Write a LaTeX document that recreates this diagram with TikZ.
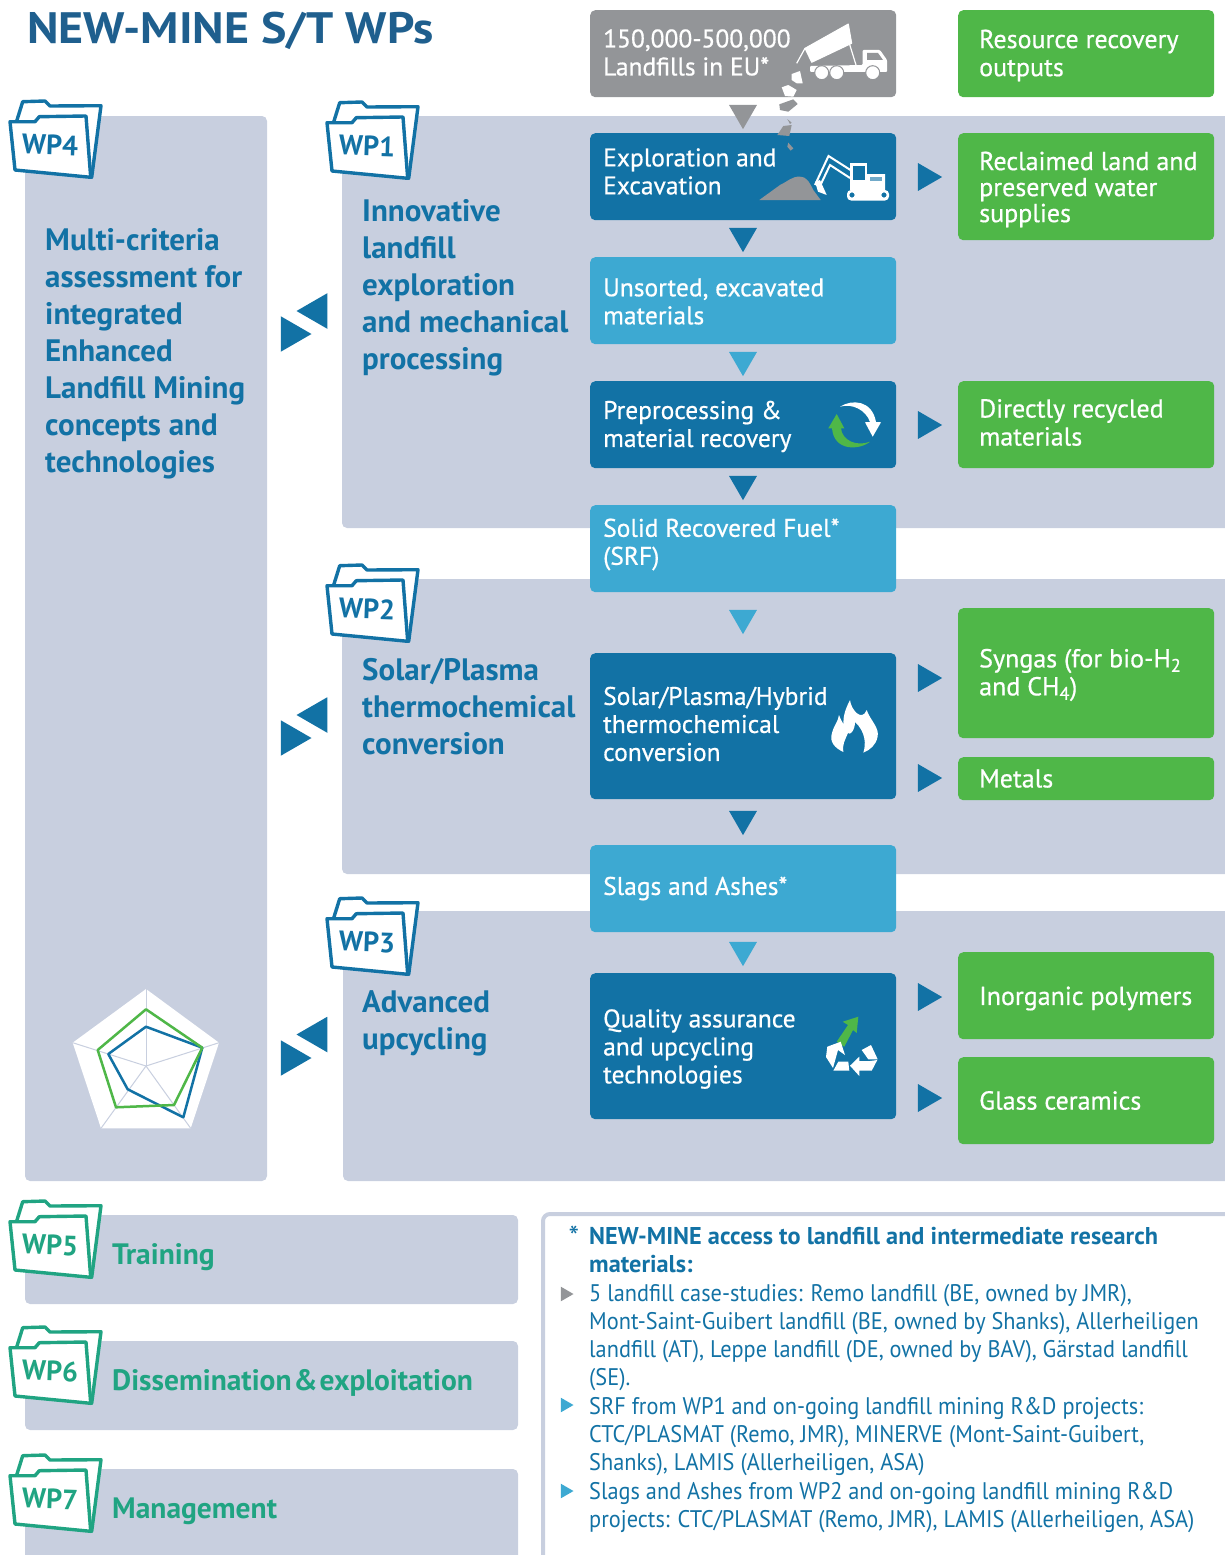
\documentclass[tikz,border=0pt]{standalone}
\usepackage{fontspec}
\usetikzlibrary{shapes.geometric}
\setmainfont{PT Sans}
\newfontfamily\boxfont[FakeBold=0.6]{PT Sans}
\newfontfamily\titlefont[FakeStretch=1.09]{PT Sans}
\newfontfamily\notesfont[FakeStretch=0.93]{PT Sans}

\definecolor{panelgray}{HTML}{C8CFDF}
\definecolor{wpblue}{HTML}{1272A5}
\definecolor{wplight}{HTML}{3DA9D2}
\definecolor{wpgreen}{HTML}{4FB748}
\definecolor{wpgray}{HTML}{939598}
\definecolor{wpteal}{HTML}{20A482}
\definecolor{wptitle}{HTML}{1F5F8E}

\tikzset{
  panel/.style={fill=panelgray, rounded corners=5},
  box/.style={rounded corners=5, anchor=north west, inner sep=0},
  boxtext/.style={text=white, align=left, anchor=west, inner sep=0, font=\boxfont\fontsize{25.5}{28}\selectfont},
  greentext/.style={text=white, align=left, anchor=west, inner sep=0, font=\boxfont\fontsize{26}{#1}\selectfont},
  greentext/.default=28,
  down/.style={regular polygon, regular polygon sides=3, shape border rotate=180, minimum size=32.3, inner sep=0},
  rightw/.style={regular polygon, regular polygon sides=3, shape border rotate=-90, minimum size=32.3, inner sep=0, fill=wpblue},
  pairr/.style={regular polygon, regular polygon sides=3, shape border rotate=-90, minimum size=41, inner sep=0, fill=wpblue},
  pairl/.style={regular polygon, regular polygon sides=3, shape border rotate=90, minimum size=41, inner sep=0, fill=wpblue},
  heading/.style={text=wpblue, align=left, anchor=north west, inner sep=0,
    font=\bfseries\fontsize{31}{37}\selectfont},
  tealtext/.style={text=wpteal, anchor=west, inner sep=0, font=\bfseries\fontsize{29.5}{37}\selectfont},
  bullet/.style={regular polygon, regular polygon sides=3, shape border rotate=-90, minimum size=17, inner sep=0},
}

\newcommand{\wpfolder}[5]{
  \begin{scope}[shift={(#1,#2)}]
    \filldraw[draw=#3, fill=white, line width=3.4, line join=round]
      (6.7,21) -- (12.7,1.7) -- (35,1) -- (40,6) -- (91,5.7) -- (81.7,77.3) -- cycle;
    \filldraw[draw=#3, fill=white, line width=3.4, line join=round]
      (0,21.7) -- (25,21.7) -- (29.3,16.7) -- (76,16) -- (80.7,77.3) -- (5,70) -- cycle;
    \node[text=#3, font=\bfseries\fontsize{28}{28}\selectfont, rotate=-2] (#5) at (40,45) {#4};
  \end{scope}
}

\newcommand{\greenbox}[6]{
  \node[box, fill=wpgreen, minimum width=256, minimum height=#3] (#1) at (958,#2) {};
  \node[greentext=#4] (#1t) at (979,#5) {#6};
}

\newcommand{\bluebox}[6]{
  \node[box, fill=#1, minimum width=306, minimum height=#4] (#2) at (590,#3) {};
  \node[boxtext] (#2t) at (603,#5) {#6};
}

\begin{document}
\begin{tikzpicture}[x=1pt, y=-1pt]
    \useasboundingbox (0,0) rectangle (1225,1555);
    \clip (0,0) rectangle (1225,1555);

    \fill[panel] (25,116) rectangle (267,1181);
    \fill[panel] (342,116) rectangle (1240,528);
    \fill[panel] (342,579) rectangle (1240,874);
    \fill[panel] (343,911) rectangle (1240,1181);
    \fill[panel] (25,1215) rectangle (518,1304);
    \fill[panel] (25,1341) rectangle (518,1430);
    \fill[panel] (25,1469) rectangle (518,1575);

    \node[text=wptitle, anchor=west, inner sep=0, font=\titlefont\bfseries\fontsize{44}{44}\selectfont] (title) at (27,31) {NEW-MINE S/T WPs};

    \wpfolder{10}{100}{wpblue}{WP4}{wp4}
    \wpfolder{327}{101}{wpblue}{WP1}{wp1}
    \wpfolder{327}{564}{wpblue}{WP2}{wp2}
    \wpfolder{327}{897}{wpblue}{WP3}{wp3}
    \wpfolder{10}{1200}{wpteal}{WP5}{wp5}
    \wpfolder{10}{1326}{wpteal}{WP6}{wp6}
    \wpfolder{10}{1454}{wpteal}{WP7}{wp7}

    \node[heading] (wp4text) at (45,228) {Multi-criteria\\assessment for\\integrated\\Enhanced\\Landfill Mining\\concepts and\\technologies};
    \node[heading] (wp1text) at (362,199) {Innovative\\landfill\\exploration\\and mechanical\\processing};
    \node[heading] (wp2text) at (362,658) {Solar/Plasma\\thermochemical\\conversion};
    \node[heading] (wp3text) at (362,990) {Advanced\\upcycling};

    \node[tealtext] (wp5text) at (112,1257) {Training};
    \node[tealtext] (wp6text) at (112,1383) {\spaceskip=2pt Dissemination \& exploitation};
    \node[tealtext] (wp7text) at (112,1511) {Management};

    \node[pairl] (p1l) at (317,311) {};
    \node[pairr] (p1r) at (291,334) {};
    \node[pairl] (p2l) at (317,715) {};
    \node[pairr] (p2r) at (291,738) {};
    \node[pairl] (p3l) at (317,1034.5) {};
    \node[pairr] (p3r) at (291,1058) {};

    \bluebox{wpgray}{landfills}{10}{87}{52.5}{150,000-500,000\\Landfills in EU*}
    \bluebox{wpblue}{explore}{133}{87}{171.5}{Exploration and\\Excavation}
    \bluebox{wplight}{unsorted}{257}{87}{301.5}{Unsorted, excavated\\materials}
    \bluebox{wpblue}{preproc}{381}{87}{426.5}{Preprocessing \&\\material recovery}
    \bluebox{wplight}{srf}{505}{87}{544.5}{Solid Recovered Fuel*\\(SRF)}
    \bluebox{wpblue}{solar}{653}{146}{724}{Solar/Plasma/Hybrid\\thermochemical\\conversion}
    \bluebox{wplight}{slags}{845}{87}{888.5}{Slags and Ashes*}
    \bluebox{wpblue}{quality}{973}{146}{1049}{Quality assurance\\and upcycling\\technologies}

    \greenbox{outputs}{10}{87}{28}{55.5}{Resource recovery\\outputs}
    \greenbox{reclaimed}{133}{107}{26}{189.5}{Reclaimed land and\\preserved water\\supplies}
    \greenbox{recycled}{381}{87}{28}{422.5}{Directly recycled\\materials}
    \greenbox{syngas}{608}{130}{28}{675}{Syngas (for bio-H\textsubscript{2}\\and CH\textsubscript{4})}
    \greenbox{metals}{757}{43}{28}{778.5}{Metals}
    \greenbox{polymers}{952}{87}{28}{998.5}{Inorganic polymers}
    \greenbox{ceramics}{1057}{87}{28}{1100.5}{Glass ceramics}

    \node[down, fill=wpgray] (d0) at (743,113) {};
    \node[down, fill=wpblue] (d1) at (743,236) {};
    \node[down, fill=wplight] (d2) at (743,360) {};
    \node[down, fill=wpblue] (d3) at (743,484) {};
    \node[down, fill=wplight] (d4) at (743,618) {};
    \node[down, fill=wpblue] (d5) at (743,819) {};
    \node[down, fill=wplight] (d6) at (743,950) {};

    \node[rightw] (r1) at (926,177) {};
    \node[rightw] (r2) at (926,425) {};
    \node[rightw] (r3) at (926,678) {};
    \node[rightw] (r4) at (926,778) {};
    \node[rightw] (r5) at (926,997) {};
    \node[rightw] (r6) at (926,1098) {};

    \fill[white, draw=white, line width=1, line join=round] (805,48.3) -- (848.3,24) -- (851.7,43.3) -- (811.7,62.3) -- cycle;
    \draw[white, line width=1.2] (796.7,63.3) -- (805,48.3);
    \draw[white, line width=1.2] (849.3,43.3) -- (856,65);
    \fill[white, rounded corners=1] (862.7,65) -- (862.7,50) -- (880,50) -- (887,60) -- (887,72) -- (810,72) -- (810,66) -- cycle;
    \fill[wpgray] (867,53) -- (878,53) -- (883,60) -- (867,60) -- cycle;
    \filldraw[draw=wpgray, fill=white, line width=1] (821.7,72.7) circle (7);
    \filldraw[draw=wpgray, fill=white, line width=1] (836.7,72.7) circle (7);
    \filldraw[draw=wpgray, fill=white, line width=1] (872.7,72.7) circle (7);

    \fill[white] (791.7,74) -- (800,71) -- (802.7,83.3) -- (796.7,83.3) -- (791.7,80) -- cycle;
    \fill[white] (781.7,87.3) -- (788.3,85) -- (796.7,90) -- (793.3,96.7) -- (785,96) -- cycle;
    \fill[wpgray] (779.3,104.3) -- (793.3,99.3) -- (797.7,104) -- (788.3,111.7) -- (780,110) -- cycle;
    \fill[wpgray] (787.3,119) -- (791.7,122.7) -- (790,124) -- cycle;
    \fill[wpgray] (783.3,126) -- (791.7,125) -- (789.3,136) -- (777.3,135) -- cycle;
    \fill[wpgray] (788.3,142.7) -- (793.3,148.3) -- (790.7,150.7) -- (787.3,146.7) -- cycle;

    \fill[wpgray] (759.3,200) -- (780,185) .. controls (787,182) and (792,176) .. (800,176.7) .. controls (808,177) and (810,184) .. (813.3,190) -- (820.7,200) -- cycle;
    \draw[white, line width=2] (852,171) -- (828.5,156) -- (815,185);
    \draw[white, line width=2] (850,178) -- (830,165) -- (819,188);
    \fill[white] (815,181.7) -- (820,180) -- (826.7,195) -- (818,191.7) -- cycle;
    \fill[white] (850,163) rectangle (867,183);
    \fill[wpblue] (852.5,165.5) rectangle (864.5,180);
    \fill[white] (850,183) -- (867,183) -- (867,174) -- (885,174) -- (885,190) -- (850,190) -- cycle;
    \fill[wpblue!60] (870,177) rectangle (882,180.5);
    \fill[white, rounded corners=4] (847,190) rectangle (889,200.5);
    \filldraw[draw=white, fill=wpblue, line width=1.5] (852,195) circle (3.5);
    \filldraw[draw=white, fill=wpblue, line width=1.5] (884,195) circle (3.5);

    \fill[white] (840,406.7) .. controls (852,399) and (872,400) .. (876,422) -- (881,422.3) -- (872.7,436.7) -- (865,422.3) -- (870,422) .. controls (866,410) and (852,403) .. cycle;
    \fill[wpgreen] (870,441.7) .. controls (860,450) and (834,452) .. (832,428.3) -- (828.3,428.3) -- (836.7,414) -- (844.3,428.3) -- (841,428.3) .. controls (842,440) and (856,447) .. cycle;

    \fill[white] (850,700) .. controls (851,710) and (862,722) .. (866.7,710) .. controls (870,720) and (880,728) .. (877.5,737) .. controls (876,745) and (870,750) .. (863.3,752.7) .. controls (866,745) and (866,732) .. (855,722) .. controls (855,730) and (850,736) .. (848,733) .. controls (845,740) and (842,745) .. (843.3,752) .. controls (835,748) and (829,742) .. (832,733) .. controls (834,725) and (838,722) .. (839,715) .. controls (841,720) and (842,722) .. (843.5,724) .. controls (843,715) and (846,708) .. cycle;

    \fill[wpgreen] (858.3,1016.7) -- (842.7,1021.7) -- (848,1025) -- (836.7,1041.7) -- (844.3,1046.7) -- (853,1030) -- (856.7,1033) -- cycle;
    \fill[white] (827.3,1046.7) -- (840.7,1041.7) -- (845,1055) -- (838,1050) -- (833,1068) -- (826,1057) -- cycle;
    \fill[white] (838.3,1061.7) -- (848.3,1061.7) -- (849.3,1070.7) -- (833.3,1070.7) -- cycle;
    \fill[white] (850,1065.7) -- (859.3,1056.7) -- (859.3,1061) -- (870,1061) -- (877.3,1060) -- (871.7,1070.7) -- (859.3,1070.7) -- (859.3,1076) -- cycle;
    \fill[white] (861.7,1050) -- (871,1045) -- (877.7,1059.3) -- (868.3,1059.3) -- cycle;

    \fill[white] (146,989) -- (219,1042.7) -- (190.7,1128.3) -- (101,1128.3) -- (72.7,1042.7) -- cycle;
    \foreach \x/\y in {146/989, 219/1042.7, 190.7/1128.3, 101/1128.3, 72.7/1042.7}
      \draw[panelgray, line width=1] (146,1066) -- (\x,\y);
    \draw[wpblue, line width=2.5, line join=round] (146,1026.7) -- (202.3,1047.7) -- (183.3,1117.3) -- (127.7,1089.3) -- (108.3,1054) -- cycle;
    \draw[wpgreen, line width=2.5, line join=round] (146,1009.3) -- (202.3,1047.7) -- (174,1105) -- (116,1107.3) -- (97.7,1050) -- cycle;

    \draw[panelgray, line width=4, rounded corners=7] (543,1570) -- (543,1214) -- (1240,1214);
    \node[text=wpblue, anchor=center, inner sep=0, font=\fontsize{30}{30}\selectfont] (star) at (574,1237) {*};
    \node[text=wpblue, align=left, anchor=north west, inner sep=0, font=\notesfont\fontsize{24}{28.3}\selectfont] (notes) at (589,1227) {%
      {\normalfont\bfseries\fontsize{24.3}{28.3}\selectfont NEW-MINE access to landfill and intermediate research}\\
      {\normalfont\bfseries\fontsize{24.3}{28.3}\selectfont materials:}\\
      5 landfill case-studies: Remo landfill (BE, owned by JMR),\\
      Mont-Saint-Guibert landfill (BE, owned by Shanks), Allerheiligen\\
      landfill (AT), Leppe landfill (DE, owned by BAV), Gärstad landfill\\
      (SE).\\
      SRF from WP1 and on-going landfill mining R\&D projects:\\
      CTC/PLASMAT (Remo, JMR), MINERVE (Mont-Saint-Guibert,\\
      Shanks), LAMIS (Allerheiligen, ASA)\\
      Slags and Ashes from WP2 and on-going landfill mining R\&D\\
      projects: CTC/PLASMAT (Remo, JMR), LAMIS (Allerheiligen, ASA)};
    \node[bullet, fill=wpgray] (b1) at (565,1294) {};
    \node[bullet, fill=wplight] (b2) at (565,1405) {};
    \node[bullet, fill=wplight] (b3) at (565,1491) {};
  \end{tikzpicture}
\end{document}
